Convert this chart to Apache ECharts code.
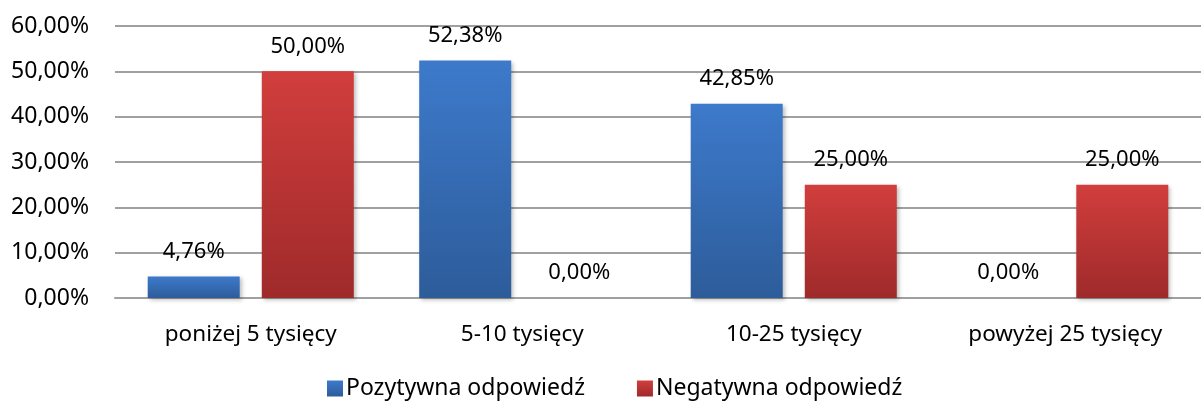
<!DOCTYPE html>
<html>
<head>
<meta charset="utf-8">
<script src="https://cdn.jsdelivr.net/npm/echarts@6/dist/echarts.min.js"></script>
<style>
  html, body { margin: 0; padding: 0; background: #fff; }
  #chart { width: 1201px; height: 401px; }
</style>
</head>
<body>
<div id="chart"></div>
<script>
const categories = ['poniżej 5 tysięcy', '5-10 tysięcy', '10-25 tysięcy', 'powyżej 25 tysięcy']
const positive = [4.76, 52.38, 42.85, 0]
const negative = [50, 0, 25, 25]
const seriesNames = ['Pozytywna odpowiedź', 'Negatywna odpowiedź']

const font = 'Noto Sans'
const pct = v => v.toFixed(2).replace('.', ',') + '%'

function grad(top, bottom) {
  return new echarts.graphic.LinearGradient(0, 0, 0, 1, [
    { offset: 0, color: top },
    { offset: 1, color: bottom },
  ])
}

const chart = echarts.init(document.getElementById('chart'), null, { renderer: 'canvas' })

// shared bar styling
const barBase = {
  type: 'bar',
  barWidth: 92,
  barGap: '24%',
  label: {
    show: true,
    position: 'top',
    distance: 14,
    color: '#000',
    fontFamily: font,
    fontSize: 22,
    formatter: p => pct(p.value),
  },
}

chart.setOption({
  animation: false,
  backgroundColor: '#fff',
  grid: { left: 115, right: -11, top: 26, bottom: 103, containLabel: false },
  legend: {
    left: 327,
    top: 377,
    padding: 0,
    itemWidth: 16,
    itemHeight: 16,
    itemGap: 52,
    icon: 'rect',
    textStyle: { color: '#000', fontFamily: font, fontSize: 23, padding: [0, 0, 0, -2] },
    data: seriesNames,
  },
  xAxis: {
    type: 'category',
    data: categories,
    axisLine: { show: true, lineStyle: { color: '#a0a0a0', width: 2 } },
    axisTick: { show: false },
    axisLabel: { color: '#000', fontFamily: font, fontSize: 22.5, margin: 25 },
  },
  yAxis: {
    type: 'value',
    min: 0,
    max: 60,
    interval: 10,
    axisLine: { show: false },
    axisTick: { show: false },
    axisLabel: { color: '#000', fontFamily: font, fontSize: 23, margin: 26, formatter: pct },
    splitLine: { lineStyle: { color: '#a0a0a0', width: 2 } },
  },
  series: [
    {
      ...barBase,
      name: seriesNames[0],
      data: positive,
      itemStyle: {
        color: grad('#3d7acb', '#2d5c9a'),
        shadowColor: 'rgba(0,0,0,0.25)', shadowBlur: 4, shadowOffsetX: 2, shadowOffsetY: 2,
      },
    },
    {
      ...barBase,
      name: seriesNames[1],
      data: negative,
      itemStyle: {
        color: grad('#d13e3d', '#9f2a2a'),
        shadowColor: 'rgba(0,0,0,0.25)', shadowBlur: 4, shadowOffsetX: 2, shadowOffsetY: 2,
      },
    },
  ],
})
</script>
</body>
</html>
